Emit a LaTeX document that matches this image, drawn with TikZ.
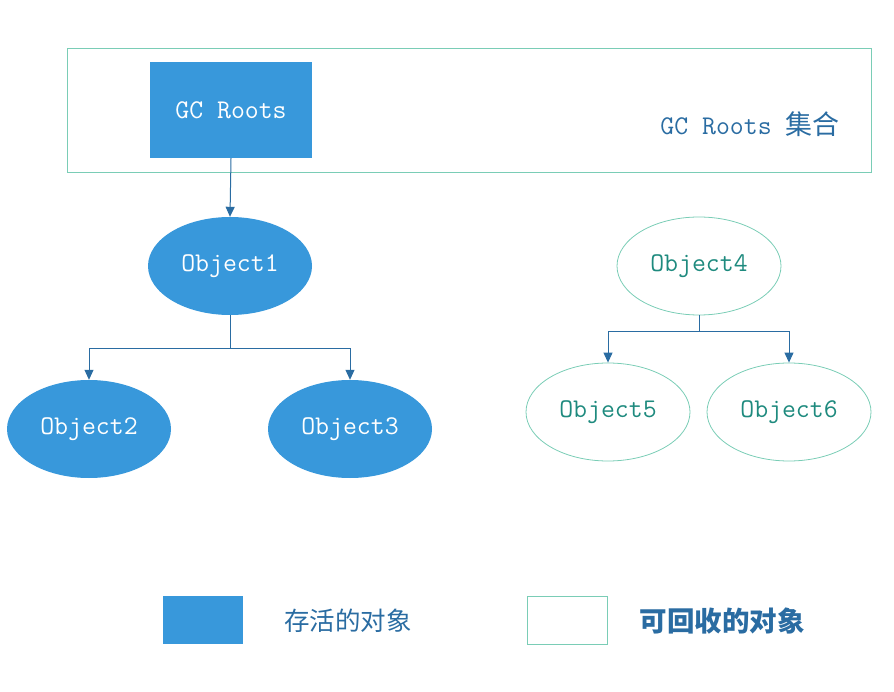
\documentclass[tikz,border=0pt]{standalone}
\usepackage{fontspec}
\usetikzlibrary{shapes.geometric,arrows.meta}
\newfontfamily\cjk{Noto Sans CJK SC}
\definecolor{liveblue}{HTML}{3898DB}
\definecolor{linkblue}{HTML}{2A6CA2}
\definecolor{deadgreen}{HTML}{7ACDB6}
\definecolor{deadtext}{HTML}{1E8A7E}
\begin{document}
\begin{tikzpicture}[x=1pt,y=-1pt,
  live/.style={ellipse,fill=liveblue,text=white,minimum width=164pt,minimum height=98pt,inner sep=0pt,font=\ttfamily\fontsize{27}{28}\selectfont},
  dead/.style={ellipse,draw=deadgreen,line width=0.8pt,text=deadtext,minimum width=164pt,minimum height=98pt,inner sep=0pt,font=\ttfamily\fontsize{27}{28}\selectfont},
  conn/.style={draw=linkblue,line width=1pt,-{Triangle[length=10pt,width=9pt]}}]
\useasboundingbox (0,0) rectangle (894,692);
% GC Roots set
\node[draw=deadgreen,line width=0.8pt,minimum width=804pt,minimum height=124pt,inner sep=0pt] (set) at (469,110) {};
\node[fill=liveblue,text=white,minimum width=162pt,minimum height=96pt,inner sep=0pt,font=\ttfamily\fontsize{27}{28}\selectfont] (root) at (231,110) {GC Roots};
\node[text=linkblue,inner sep=0pt,font=\fontsize{27}{28}\selectfont] (setlabel) at (750,124) {\ttfamily GC Roots \cjk 集合};
% reachable objects
\node[live] (obj1) at (230,266) {Object1};
\node[live] (obj2) at (89,429) {Object2};
\node[live] (obj3) at (350,429) {Object3};
% unreachable objects
\node[dead] (obj4) at (699,266) {Object4};
\node[dead] (obj5) at (608,412) {Object5};
\node[dead] (obj6) at (789,412) {Object6};
% references
\draw[conn] (root.south) -- (obj1.north);
\draw[conn] (obj1.south) -- ++(0,33) coordinate (fork1) -| (obj2.north);
\draw[conn] (fork1) -| (obj3.north);
\draw[conn] (obj4.south) -- ++(0,16) coordinate (fork2) -| (obj5.north);
\draw[conn] (fork2) -| (obj6.north);
% legend
\node[fill=liveblue,minimum width=80pt,minimum height=48pt,inner sep=0pt] (keylive) at (203,620) {};
\node[text=linkblue,inner sep=0pt,font=\cjk\fontsize{25.5}{28}\selectfont] (textlive) at (348,621) {存活的对象};
\node[draw=deadgreen,line width=0.8pt,minimum width=80pt,minimum height=48pt,inner sep=0pt] (keydead) at (567,620) {};
\node[text=linkblue,inner sep=0pt,font=\cjk\bfseries\fontsize{27.5}{30}\selectfont] (textdead) at (722,621) {可回收的对象};
\end{tikzpicture}
\end{document}
